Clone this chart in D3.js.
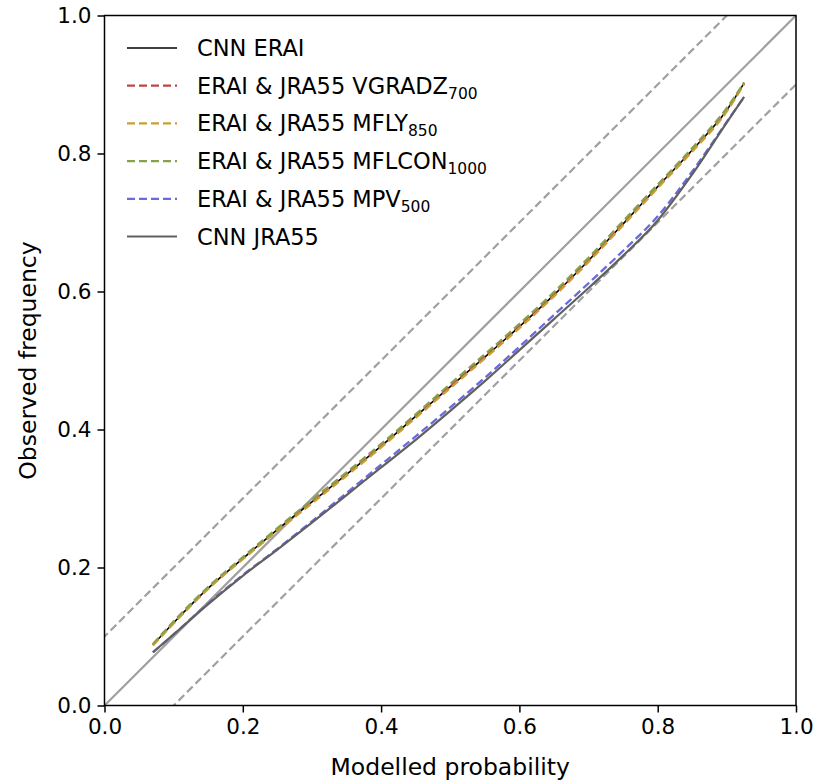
<!DOCTYPE html>
<html><head><meta charset="utf-8">
<script src="https://cdn.jsdelivr.net/npm/d3@7"></script>
<style>body{margin:0;background:#fff}svg{display:block}text{font-family:"DejaVu Sans",sans-serif}</style>
</head><body>
<svg id="c" width="818" height="781"></svg>
<script>
const probs     = [0.07,0.1,0.15,0.2,0.25,0.3,0.35,0.4,0.45,0.5,0.55,0.6,0.65,0.7,0.75,0.8,0.85,0.9,0.925];
const cnnERAI   = [0.088,0.12,0.17,0.213,0.255,0.295,0.335,0.376,0.419,0.462,0.505,0.549,0.595,0.645,0.698,0.752,0.805,0.863,0.902];
const vgradz700 = [0.088,0.12,0.17,0.213,0.255,0.296,0.336,0.377,0.420,0.463,0.506,0.550,0.596,0.646,0.699,0.752,0.805,0.863,0.902];
const mfly850   = [0.087,0.119,0.169,0.212,0.253,0.293,0.333,0.374,0.417,0.460,0.503,0.547,0.593,0.643,0.696,0.750,0.803,0.861,0.901];
const mflcon1000= [0.089,0.122,0.172,0.215,0.257,0.298,0.338,0.379,0.422,0.466,0.509,0.553,0.599,0.649,0.702,0.755,0.808,0.866,0.903];
const mpv500    = [0.077,0.103,0.148,0.189,0.227,0.267,0.308,0.349,0.390,0.432,0.475,0.520,0.566,0.612,0.659,0.709,0.774,0.846,0.882];
const cnnJRA55  = [0.077,0.103,0.147,0.188,0.226,0.265,0.305,0.345,0.385,0.427,0.470,0.515,0.560,0.605,0.652,0.703,0.770,0.845,0.882];
const ticks = [0,0.2,0.4,0.6,0.8,1.0];

const series = [
  {name:"CNN ERAI", sub:"", y:cnnERAI, color:"#000000", dash:null, w:1.6},
  {name:"ERAI & JRA55 VGRADZ", sub:"700", y:vgradz700, color:"#c04545", dash:"8,4", w:2.3},
  {name:"ERAI & JRA55 MFLY", sub:"850", y:mfly850, color:"#c9a035", dash:"8,4", w:2.3},
  {name:"ERAI & JRA55 MFLCON", sub:"1000", y:mflcon1000, color:"#86a04e", dash:"8,4", w:2.3},
  {name:"ERAI & JRA55 MPV", sub:"500", y:mpv500, color:"#6a6ae0", dash:"8,4", w:2.3},
  {name:"CNN JRA55", sub:"", y:cnnJRA55, color:"#606060", dash:null, w:2.2}
];

const svg = d3.select("#c");
const L=104.5, R=796, T=15.5, B=705.5;
const x = d3.scaleLinear().domain([0,1]).range([L,R]);
const y = d3.scaleLinear().domain([0,1]).range([B,T]);

svg.append("defs").append("clipPath").attr("id","cp")
  .append("rect").attr("x",L).attr("y",T).attr("width",R-L).attr("height",B-T);
const g = svg.append("g").attr("clip-path","url(#cp)");

const refs = [{off:0,dash:null},{off:0.1,dash:"8,4"},{off:-0.1,dash:"8,4"}];
refs.forEach(r=>{
  g.append("line").attr("x1",x(-0.2)).attr("y1",y(-0.2+r.off)).attr("x2",x(1.2)).attr("y2",y(1.2+r.off))
   .attr("stroke","#a0a0a0").attr("stroke-width",2.2).attr("stroke-dasharray",r.dash);
});

const line = d3.line().x((d,i)=>x(probs[i])).y(d=>y(d)).curve(d3.curveMonotoneX);
series.forEach(s=>{
  g.append("path").attr("d",line(s.y)).attr("fill","none").attr("stroke",s.color)
   .attr("stroke-width",s.w).attr("stroke-dasharray",s.dash);
});

const xa = svg.append("g").attr("transform",`translate(0,${B})`)
  .call(d3.axisBottom(x).tickValues(ticks).tickFormat(d3.format(".1f")).tickSize(7).tickPadding(6));
const ya = svg.append("g").attr("transform",`translate(${L},0)`)
  .call(d3.axisLeft(y).tickValues(ticks).tickFormat(d3.format(".1f")).tickSize(7).tickPadding(6));
[xa,ya].forEach(a=>{
  a.selectAll("text").attr("font-size",21.5).attr("fill","#000").style("font-family","DejaVu Sans");
  a.selectAll("line").attr("stroke","#000").attr("stroke-width",1.5);
  a.select(".domain").remove();
});
svg.append("rect").attr("x",L).attr("y",T).attr("width",R-L).attr("height",B-T)
  .attr("fill","none").attr("stroke","#000").attr("stroke-width",1.5);

svg.append("text").attr("x",(L+R)/2).attr("y",775).attr("text-anchor","middle")
  .attr("font-size",23.5).text("Modelled probability");
svg.append("text").attr("transform",`translate(36,${(T+B)/2}) rotate(-90)`).attr("text-anchor","middle")
  .attr("font-size",23.5).text("Observed frequency");

const lg = svg.append("g");
series.forEach((s,i)=>{
  const yy = 48 + i*37.7;
  lg.append("line").attr("x1",127).attr("x2",177).attr("y1",yy).attr("y2",yy)
    .attr("stroke",s.color).attr("stroke-width",s.w).attr("stroke-dasharray",s.dash);
  const t = lg.append("text").attr("x",197).attr("y",yy+8).attr("font-size",22.5).text(s.name);
  if(s.sub) t.append("tspan").attr("font-size",15.5).attr("dy",5).text(s.sub);
});
</script>
</body></html>
